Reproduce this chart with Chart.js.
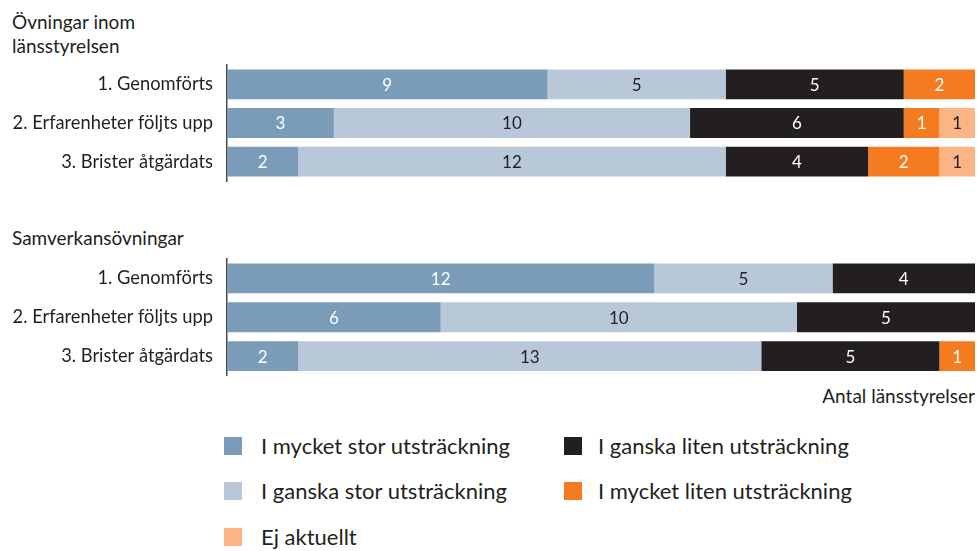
<!DOCTYPE html>
<html>
<head>
<meta charset="utf-8">
<script src="https://cdn.jsdelivr.net/npm/chart.js@4.4.1/dist/chart.umd.min.js"></script>
<style>
  html, body { margin: 0; padding: 0; background: #ffffff; }
  body { width: 977px; height: 551px; position: relative; overflow: hidden; font-family: Lato, "Open Sans", sans-serif; color: #231f20; }
  .abs { position: absolute; white-space: nowrap; }
  .hdr { font-size: 19px; line-height: 24px; }
  .leg { font-size: 22px; line-height: 22px; }
  .sw { position: absolute; width: 18px; height: 18px; }
  canvas { position: absolute; left: 0; }
</style>
</head>
<body>
<div class="abs hdr" id="h1" style="left:12px; top:10px;"></div>
<div class="abs hdr" id="h2" style="left:12px; top:226px;"></div>
<div class="abs" id="axisTitle" style="right:2px; top:384px; font-size:19px; line-height:24px;"></div>
<div id="legend"></div>
<canvas id="c1" width="977" height="130" style="top:60px; width:977px; height:130px;"></canvas>
<canvas id="c2" width="977" height="130" style="top:254px; width:977px; height:130px;"></canvas>
<script>
// ---- data ----
const groupTitles = ["Övningar inom\nlänsstyrelsen", "Samverkansövningar"];
const categories = ["1. Genomförts", "2. Erfarenheter följts upp", "3. Brister åtgärdats"];
const seriesNames = [
  "I mycket stor utsträckning",
  "I ganska stor utsträckning",
  "I ganska liten utsträckning",
  "I mycket liten utsträckning",
  "Ej aktuellt"
];
// Group 1: Övningar inom länsstyrelsen
const g1MycketStor  = [9, 3, 2];
const g1GanskaStor  = [5, 10, 12];
const g1GanskaLiten = [5, 6, 4];
const g1MycketLiten = [2, 1, 2];
const g1EjAktuellt  = [0, 1, 1];
// Group 2: Samverkansövningar
const g2MycketStor  = [12, 6, 2];
const g2GanskaStor  = [5, 10, 13];
const g2GanskaLiten = [4, 5, 5];
const g2MycketLiten = [0, 0, 1];
const g2EjAktuellt  = [0, 0, 0];
const axisMax = 21;
const axisTitle = "Antal länsstyrelser";

// ---- styles ----
const colors = ["#7a9cb8", "#b8c8d8", "#231f20", "#f47b20", "#fbb584"];
const labelColors = ["#ffffff", "#231f20", "#ffffff", "#ffffff", "#231f20"];

document.getElementById('h1').innerHTML = groupTitles[0].replace("\n", "<br>");
document.getElementById('h2').textContent = groupTitles[1];
document.getElementById('axisTitle').textContent = axisTitle;

// legend (two columns, order as in reference)
const legendPos = [
  {x: 224, tx: 261, y: 437}, {x: 224, tx: 261, y: 482},
  {x: 564, tx: 598, y: 437}, {x: 564, tx: 598, y: 482},
  {x: 224, tx: 261, y: 528}
];
const leg = document.getElementById('legend');
seriesNames.forEach((n, i) => {
  const p = legendPos[i];
  const sw = document.createElement('div');
  sw.className = 'sw';
  sw.style.left = p.x + 'px';
  sw.style.top = p.y + 'px';
  sw.style.background = colors[i];
  leg.appendChild(sw);
  const t = document.createElement('div');
  t.className = 'abs leg';
  t.style.left = p.tx + 'px';
  t.style.top = (p.y - 2) + 'px';
  t.textContent = n;
  leg.appendChild(t);
});

const valueLabels = {
  id: 'valueLabels',
  afterDatasetsDraw(chart) {
    const ctx = chart.ctx;
    ctx.save();
    ctx.textAlign = 'center';
    ctx.textBaseline = 'middle';
    ctx.font = '17px Lato, "Open Sans", sans-serif';
    chart.data.datasets.forEach((ds, di) => {
      const meta = chart.getDatasetMeta(di);
      meta.data.forEach((el, i) => {
        const v = ds.data[i];
        if (!v) return;
        ctx.fillStyle = labelColors[di];
        ctx.fillText(String(v), (el.x + el.base) / 2, el.y + 1);
      });
    });
    ctx.restore();
  }
};

function makeChart(id, arrays, padTop, padBottom) {
  return new Chart(document.getElementById(id), {
    type: 'bar',
    data: {
      labels: categories,
      datasets: arrays.map((arr, i) => ({
        label: seriesNames[i],
        data: arr,
        backgroundColor: colors[i],
        borderWidth: 0,
        barPercentage: 0.77,
        categoryPercentage: 1.0
      }))
    },
    options: {
      indexAxis: 'y',
      responsive: false,
      animation: false,
      events: [],
      layout: { padding: { left: 0, right: 2, top: padTop, bottom: padBottom } },
      plugins: { legend: { display: false }, tooltip: { enabled: false } },
      scales: {
        x: { stacked: true, min: 0, max: axisMax, display: false },
        y: {
          stacked: true,
          grid: { display: false, drawTicks: false },
          border: { display: true, color: '#4a4a4a', width: 1.5 },
          ticks: { color: '#231f20', padding: 14, font: { family: 'Lato', size: 18.3 } },
          afterFit(scale) {
            scale.width = 227;
            scale.paddingTop = 0;
            scale.paddingBottom = 0;
          }
        }
      }
    },
    plugins: [valueLabels]
  });
}

makeChart('c1', [g1MycketStor, g1GanskaStor, g1GanskaLiten, g1MycketLiten, g1EjAktuellt], 5, 9);
makeChart('c2', [g2MycketStor, g2GanskaStor, g2GanskaLiten, g2MycketLiten, g2EjAktuellt], 5, 8.5);
</script>
</body>
</html>
